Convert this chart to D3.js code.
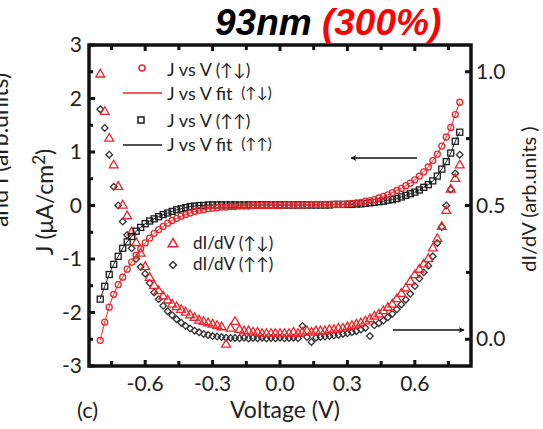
<!DOCTYPE html>
<html>
<head>
<meta charset="utf-8">
<script src="https://cdn.jsdelivr.net/npm/d3@7"></script>
<style>
  html, body { margin: 0; padding: 0; background: #fff; }
  svg { display: block; }
  text { font-family: Lato, "Open Sans", "DejaVu Sans", sans-serif; fill: #222; }
</style>
</head>
<body>
<svg id="chart" width="543" height="429"></svg>
<script>
// ---------------- data ----------------
const voltages = [-0.80,-0.78,-0.76,-0.74,-0.72,-0.70,-0.68,-0.66,-0.64,-0.62,-0.60,-0.58,-0.56,-0.54,-0.52,-0.50,-0.48,-0.46,-0.44,-0.42,-0.40,-0.38,-0.36,-0.34,-0.32,-0.30,-0.28,-0.26,-0.24,-0.22,-0.20,-0.18,-0.16,-0.14,-0.12,-0.10,-0.08,-0.06,-0.04,-0.02,0.00,0.02,0.04,0.06,0.08,0.10,0.12,0.14,0.16,0.18,0.20,0.22,0.24,0.26,0.28,0.30,0.32,0.34,0.36,0.38,0.40,0.42,0.44,0.46,0.48,0.50,0.52,0.54,0.56,0.58,0.60,0.62,0.64,0.66,0.68,0.70,0.72,0.74,0.76,0.78,0.80];

// J vs V (up-down), uA/cm^2
const jUpDown = [-2.52,-2.18,-1.90,-1.66,-1.48,-1.34,-1.19,-1.06,-0.93,-0.81,-0.70,-0.61,-0.52,-0.45,-0.39,-0.33,-0.28,-0.24,-0.20,-0.17,-0.14,-0.11,-0.09,-0.08,-0.06,-0.05,-0.04,-0.03,-0.03,-0.02,-0.02,-0.01,-0.01,-0.01,0.00,0.00,0.00,0.00,0.00,0.00,0.00,0.01,0.01,0.01,0.01,0.01,0.01,0.02,0.02,0.02,0.02,0.02,0.02,0.02,0.02,0.03,0.04,0.05,0.06,0.08,0.09,0.11,0.14,0.17,0.20,0.24,0.28,0.32,0.37,0.42,0.48,0.55,0.63,0.72,0.84,0.96,1.11,1.28,1.46,1.70,1.93];
// J vs V (up-up)
const jUpUp = [-1.75,-1.51,-1.29,-1.10,-0.95,-0.80,-0.68,-0.58,-0.48,-0.41,-0.34,-0.29,-0.25,-0.21,-0.17,-0.14,-0.11,-0.08,-0.06,-0.04,-0.02,-0.01,0.00,0.00,0.01,0.01,0.01,0.01,0.01,0.01,0.01,0.01,0.01,0.01,0.01,0.01,0.01,0.01,0.01,0.01,0.01,0.01,0.01,0.01,0.01,0.01,0.01,0.01,0.01,0.01,0.01,0.01,0.02,0.02,0.02,0.02,0.02,0.03,0.03,0.04,0.05,0.06,0.07,0.08,0.10,0.11,0.13,0.16,0.19,0.22,0.25,0.29,0.34,0.39,0.46,0.55,0.68,0.82,0.98,1.20,1.37];
// dI/dV (up-down), arb. units
const dUpDown = [0.99,0.85,0.75,0.65,0.57,0.50,0.46,0.40,0.36,0.32,0.27,0.23,0.20,0.18,0.16,0.145,0.13,0.12,0.11,0.10,0.09,0.08,0.07,0.065,0.06,0.055,0.05,0.045,-0.02,0.04,0.065,0.035,0.03,0.03,0.025,0.025,0.02,0.02,0.02,0.02,0.02,0.02,0.02,0.025,0.02,0.025,0.03,0.025,0.03,0.03,0.03,0.035,0.035,0.04,0.04,0.045,0.05,0.055,0.06,0.067,0.075,0.085,0.093,0.105,0.118,0.13,0.15,0.17,0.19,0.215,0.24,0.26,0.28,0.30,0.34,0.375,0.42,0.48,0.56,0.60,0.65];
// dI/dV (up-up)
const dUpUp = [0.86,0.79,0.69,0.57,0.50,0.44,0.39,0.34,0.30,0.27,0.245,0.21,0.175,0.15,0.125,0.105,0.09,0.075,0.062,0.05,0.04,0.032,0.026,0.02,0.016,0.012,0.01,0.008,0.006,0.005,0.005,0.004,0.006,0.003,0.005,0.004,0.006,0.003,0.005,0.004,0.006,0.004,0.005,0.006,0.004,0.05,0.008,-0.01,0.006,0.008,0.01,0.012,0.014,0.016,0.02,0.022,0.026,0.03,0.036,0.042,0.012,0.052,0.06,0.07,0.082,0.095,0.112,0.13,0.148,0.17,0.199,0.227,0.25,0.275,0.31,0.36,0.42,0.50,0.56,0.62,0.69];

const xTicks = [-0.6,-0.3,0.0,0.3,0.6];
const xMinorTicks = [-0.75,-0.45,-0.15,0.15,0.45,0.75];
const yLeftTicks = [-3,-2,-1,0,1,2,3];
const yLeftMinor = [-2.5,-1.5,-0.5,0.5,1.5,2.5];
const yRightTicks = [0.0,0.5,1.0];
const yRightMinor = [0.25,0.75];

// ---------------- layout ----------------
const RED = "#e8262b", BLACK = "#1a1a1a", GRAY = "#333";
const svg = d3.select("#chart");
const L = 89, R = 471, T = 45, B = 366;

const x = d3.scaleLinear().domain([-0.85, 0.85]).range([L, R]);
const yL = d3.scaleLinear().domain([-3, 3]).range([B, T]);
const yR = d3.scaleLinear().domain([-0.1, 1.1]).range([B, T]);

// title
const title = svg.append("text").attr("x", 215).attr("y", 35)
  .style("font-family", "'Liberation Sans', Arial, sans-serif")
  .style("font-weight", "bold").style("font-style", "italic").style("font-size", "37px");
title.append("tspan").text("93nm ").style("fill", "#000");
title.append("tspan").text("(300%)").style("fill", "#ff0000");

// data layer
const g = svg.append("g");
const pts = (arr) => voltages.map((v, i) => ({v, val: arr[i]}));

// dI/dV up-up diamonds
g.selectAll(".dia").data(pts(dUpUp)).enter().append("path")
  .attr("d", d3.symbol().type(d3.symbolSquare).size(22)())
  .attr("transform", d => `translate(${x(d.v)},${yR(d.val)}) rotate(45)`)
  .attr("fill", "none").attr("stroke", GRAY).attr("stroke-width", 1.3);

// dI/dV up-down triangles
g.selectAll(".tri").data(pts(dUpDown)).enter().append("path")
  .attr("d", d3.symbol().type(d3.symbolTriangle).size(34)())
  .attr("transform", d => `translate(${x(d.v)},${yR(d.val)})`)
  .attr("fill", "none").attr("stroke", RED).attr("stroke-width", 1.3);

const lineL = d3.line().x(d => x(d.v)).y(d => yL(d.val)).curve(d3.curveMonotoneX);

// J up-up squares + fit
g.append("path").datum(pts(jUpUp)).attr("d", lineL)
  .attr("fill", "none").attr("stroke", BLACK).attr("stroke-width", 1);
g.selectAll(".sq").data(pts(jUpUp)).enter().append("rect")
  .attr("x", d => x(d.v) - 3).attr("y", d => yL(d.val) - 3)
  .attr("width", 6).attr("height", 6)
  .attr("fill", "none").attr("stroke", BLACK).attr("stroke-width", 1.3);

// J up-down circles + fit
g.append("path").datum(pts(jUpDown)).attr("d", lineL)
  .attr("fill", "none").attr("stroke", RED).attr("stroke-width", 1);
g.selectAll(".ci").data(pts(jUpDown)).enter().append("circle")
  .attr("cx", d => x(d.v)).attr("cy", d => yL(d.val)).attr("r", 3)
  .attr("fill", "none").attr("stroke", RED).attr("stroke-width", 1.3);

// ---------------- frame & ticks ----------------
const frame = svg.append("g");
frame.append("rect").attr("x", L).attr("y", T).attr("width", R - L).attr("height", B - T)
  .attr("fill", "none").attr("stroke", "#111").attr("stroke-width", 3.5);

function tickLines(vals, scale, len, orient) {
  vals.forEach(v => {
    const p = scale(v);
    if (orient === "bottom") frame.append("line").attr("x1", p).attr("x2", p).attr("y1", B).attr("y2", B - len);
    if (orient === "top") frame.append("line").attr("x1", p).attr("x2", p).attr("y1", T).attr("y2", T + len);
    if (orient === "left") frame.append("line").attr("y1", p).attr("y2", p).attr("x1", L).attr("x2", L + len);
    if (orient === "right") frame.append("line").attr("y1", p).attr("y2", p).attr("x1", R).attr("x2", R - len);
  });
}
tickLines(xTicks, x, 6, "bottom"); tickLines(xMinorTicks, x, 5, "bottom");
tickLines(xTicks, x, 6, "top"); tickLines(xMinorTicks, x, 5, "top");
tickLines(yLeftTicks, yL, 6, "left"); tickLines(yLeftMinor, yL, 4, "left");
tickLines(yRightTicks, yR, 6, "right"); tickLines(yRightMinor, yR, 5, "right");
frame.selectAll("line").attr("stroke", "#111").attr("stroke-width", 3);

// tick labels
const fmt1 = d3.format(".1f");
svg.append("g").selectAll("text").data(xTicks).enter().append("text")
  .attr("x", d => x(d)).attr("y", 391).attr("text-anchor", "middle")
  .style("font-size", "21px").text(d => d === 0 ? "0.0" : fmt1(d).replace("−", "-"));
svg.append("g").selectAll("text").data(yLeftTicks).enter().append("text")
  .attr("x", 82).attr("y", d => yL(d) + 7).attr("text-anchor", "end")
  .style("font-size", "21px").text(d => String(d));
svg.append("g").selectAll("text").data(yRightTicks).enter().append("text")
  .attr("x", 476).attr("y", d => yR(d) + 7).attr("text-anchor", "start")
  .style("font-size", "21px").text(d => fmt1(d));

// axis titles
svg.append("text").attr("x", 285).attr("y", 418).attr("text-anchor", "middle")
  .style("font-size", "23px").text("Voltage (V)");
svg.append("text").attr("x", 77).attr("y", 418).style("font-size", "22px").text("(c)");

const yt = svg.append("text").attr("transform", "translate(53,202) rotate(-90)")
  .attr("text-anchor", "middle").style("font-size", "23px");
yt.append("tspan").text("J (\u03bcA/cm");
yt.append("tspan").text("2").attr("dy", -8).style("font-size", "17px");
yt.append("tspan").text(")").attr("dy", 8);

// partially visible outer label (cut at the left edge, as in the source)
svg.append("text").attr("transform", "translate(8,150) rotate(-90)")
  .attr("text-anchor", "middle").style("font-size", "23px").text("and I (arb.units)");

svg.append("text").attr("transform", "translate(536,199) rotate(-90)")
  .attr("text-anchor", "middle").style("font-size", "20px").text("dI/dV (arb.units )");

// ---------------- legends ----------------
const leg = svg.append("g");
leg.append("circle").attr("cx", 142).attr("cy", 68).attr("r", 3)
  .attr("fill", "none").attr("stroke", RED).attr("stroke-width", 1.5);
leg.append("line").attr("x1", 123).attr("x2", 162).attr("y1", 93).attr("y2", 93)
  .attr("stroke", RED).attr("stroke-width", 1.5);
leg.append("rect").attr("x", 138).attr("y", 117).attr("width", 6).attr("height", 6)
  .attr("fill", "none").attr("stroke", BLACK).attr("stroke-width", 1.5);
leg.append("line").attr("x1", 123).attr("x2", 162).attr("y1", 145).attr("y2", 145)
  .attr("stroke", BLACK).attr("stroke-width", 1.5);

const legTexts = [
  {y: 76, main: "J vs V ", arr: "(\u2191\u2193)", gap: 0},
  {y: 100, main: "J vs V fit ", arr: "(\u2191\u2193)", gap: 1},
  {y: 127, main: "J vs V ", arr: "(\u2191\u2191)", gap: 0},
  {y: 151, main: "J vs V fit ", arr: "(\u2191\u2191)", gap: 1}
];
legTexts.forEach(t => {
  const tx = leg.append("text").attr("x", 167).attr("y", t.y).style("font-size", "18px");
  tx.append("tspan").text(t.main);
  tx.append("tspan").text(t.arr).style("font-size", t.gap ? "15px" : "17px")
    .attr("dx", t.gap ? 4 : 0).attr("dy", t.gap ? -2 : 0);
});

leg.append("path").attr("d", d3.symbol().type(d3.symbolTriangle).size(40)())
  .attr("transform", "translate(173,244)")
  .attr("fill", "none").attr("stroke", RED).attr("stroke-width", 1.5);
leg.append("path").attr("d", d3.symbol().type(d3.symbolSquare).size(24)())
  .attr("transform", "translate(173,265) rotate(45)")
  .attr("fill", "none").attr("stroke", GRAY).attr("stroke-width", 1.5);
leg.append("text").attr("x", 193).attr("y", 249).style("font-size", "17px").text("dI/dV (\u2191\u2193)");
leg.append("text").attr("x", 193).attr("y", 270).style("font-size", "17px").text("dI/dV (\u2191\u2191)");

// ---------------- arrows ----------------
const defs = svg.append("defs");
defs.append("marker").attr("id", "ah").attr("viewBox", "0 0 10 10").attr("refX", 9).attr("refY", 5)
  .attr("markerWidth", 9).attr("markerHeight", 6).attr("markerUnits", "userSpaceOnUse")
  .attr("orient", "auto")
  .append("path").attr("d", "M0,0 L10,5 L0,10 L3,5 Z").attr("fill", "#111");
svg.append("line").attr("x1", 417).attr("x2", 351).attr("y1", 158).attr("y2", 158)
  .attr("stroke", "#111").attr("stroke-width", 1.6).attr("marker-end", "url(#ah)");
svg.append("line").attr("x1", 393).attr("x2", 464).attr("y1", 330).attr("y2", 330)
  .attr("stroke", "#111").attr("stroke-width", 1.6).attr("marker-end", "url(#ah)");
</script>
</body>
</html>
